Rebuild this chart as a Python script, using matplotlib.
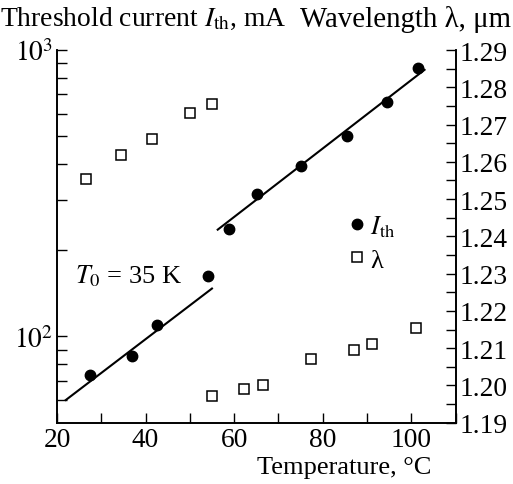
import numpy as np
import matplotlib
matplotlib.use("Agg")
import matplotlib.pyplot as plt
from matplotlib.ticker import FixedLocator, FuncFormatter, NullFormatter, MultipleLocator

# threshold current (left axis, log)
T_ith = [27.4, 36.9, 42.7, 54.2, 58.8, 65.1, 75.1, 85.5, 94.5, 101.5]
I_th = [73.4, 85.5, 109.8, 163, 237, 315, 393, 499, 661, 867]

# fitted lines, T0 = 35 K
fit1_T = [22, 55]
fit1_I = [60, 147]
fit2_T = [56.3, 103]
fit2_I = [236, 853]

# wavelength (right axis)
T_lam = [26.5, 34.4, 41.4, 50.0, 55.1, 55.1, 62.3, 66.6, 77.4, 87.1, 91.2, 101.1]
lam = [1.2554, 1.2617, 1.2662, 1.2731, 1.2755, 1.1972, 1.1991, 1.2000,
       1.2072, 1.2094, 1.2112, 1.2155]

plt.rcParams['font.family'] = 'Liberation Serif'
plt.rcParams['mathtext.fontset'] = 'stix'
fs = 19

fig = plt.figure(figsize=(5.13, 4.85), dpi=100)
ax = fig.add_axes([0.111, 0.1264, 0.777, 0.7684])
ax2 = ax.twinx()

h1, = ax.plot(T_ith, I_th, 'o', color='black', markersize=7.5, label=r'$I_{\rm th}$')
ax.plot(fit1_T, fit1_I, '-', color='black', lw=1.5)
ax.plot(fit2_T, fit2_I, '-', color='black', lw=1.5)
h2, = ax2.plot(T_lam, lam, 's', mfc='white', mec='black', mew=1.1, markersize=6.5, label='λ')

ax.set_yscale('log')
ax.set_xlim(20, 110)
ax.set_ylim(50, 1000)
ax2.set_ylim(1.19, 1.29)

ax.xaxis.set_major_locator(MultipleLocator(20))
ax.xaxis.set_minor_locator(MultipleLocator(10))
ax.yaxis.set_major_locator(FixedLocator([100, 1000]))
ax.yaxis.set_major_formatter(FuncFormatter(lambda v, p: r'$10^{%d}$' % round(np.log10(v))))
ax.yaxis.set_minor_locator(FixedLocator([60, 70, 80, 90, 200, 300, 400, 500, 600, 700, 800, 900]))
ax.yaxis.set_minor_formatter(NullFormatter())
ax2.yaxis.set_major_locator(MultipleLocator(0.01))
ax2.yaxis.set_minor_locator(MultipleLocator(0.005))
ax2.yaxis.set_major_formatter(FuncFormatter(lambda v, p: '%.2f' % v))

for a in (ax, ax2):
    a.spines['top'].set_visible(False)
    for s in a.spines.values():
        s.set_linewidth(1.2)
    a.tick_params(which='both', direction='in', length=7, width=1.0, labelsize=19.8, pad=3)

ax.set_xlabel('Temperature, °C', fontsize=fs, ha='right', x=0.94, labelpad=3)

fig.text(0.0, 0.988, r'Threshold current $I_{\rm th}$, mA', fontsize=19.9, ha='left', va='top')
fig.text(0.997, 0.988, 'Wavelength λ, μm', fontsize=20.8, ha='right', va='top')

ax.text(0.045, 0.396, r'$T_0$ = 35 K', transform=ax.transAxes, fontsize=fs, va='center')

ax2.legend([h1, h2], [r'$I_{\rm th}$', 'λ'], loc='upper left', bbox_to_anchor=(0.732, 0.562),
           frameon=False, fontsize=fs, handlelength=0.6, handletextpad=0.2,
           borderpad=0, borderaxespad=0, labelspacing=0.35)

fig.savefig('out.png', dpi=100)
